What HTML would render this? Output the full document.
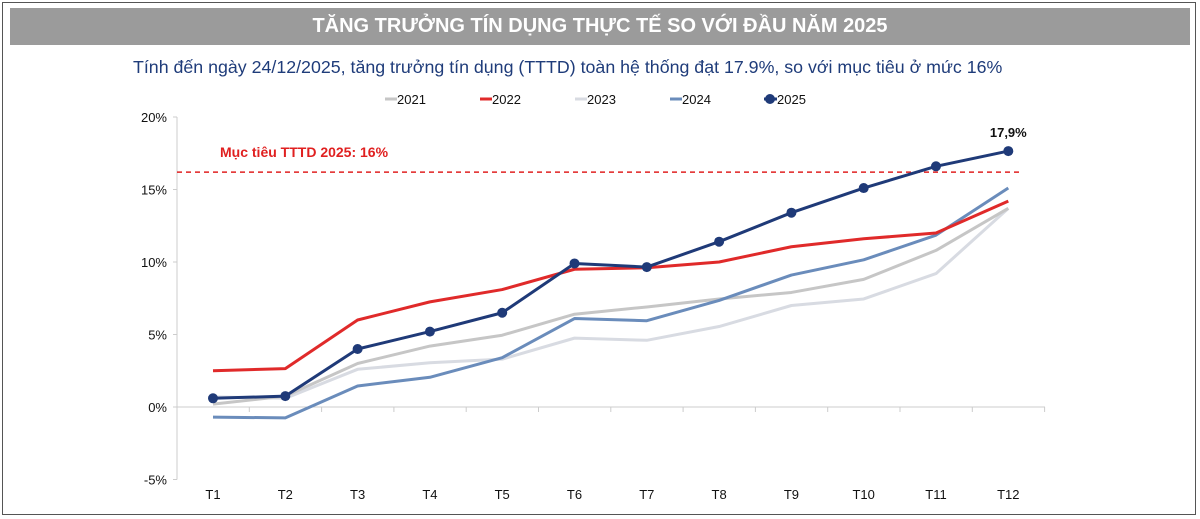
<!DOCTYPE html>
<html><head><meta charset="utf-8"><style>
body{margin:0;width:1200px;height:519px;background:#fff;font-family:"Liberation Sans",sans-serif;overflow:hidden}
#frame{position:absolute;left:2px;top:2px;width:1194px;height:513px;border:1px solid #555;box-sizing:border-box}
#hdr{position:absolute;left:10px;top:8px;width:1180px;height:37px;background:#9b9b9b;color:#fff;font-weight:bold;font-size:20px;text-align:center;line-height:37px}
#sub{position:absolute;left:133px;top:57px;white-space:nowrap;color:#1f3c7a;font-size:17.8px}
</style></head><body>
<div id="frame"></div>
<div id="hdr">TĂNG TRƯỞNG TÍN DỤNG THỰC TẾ SO VỚI ĐẦU NĂM 2025</div>
<div id="sub">Tính đến ngày 24/12/2025, tăng trưởng tín dụng (TTTD) toàn hệ thống đạt 17.9%, so với mục tiêu ở mức 16%</div>
<svg id="c" width="1200" height="519" style="position:absolute;left:0;top:0"></svg>
<script>
const categories=["T1","T2","T3","T4","T5","T6","T7","T8","T9","T10","T11","T12"];
const seriesNames=["2021","2022","2023","2024","2025"];
const s2021=[0.2,0.75,3.0,4.2,4.95,6.4,6.9,7.45,7.9,8.8,10.8,13.7];
const s2022=[2.5,2.65,6.0,7.25,8.1,9.5,9.6,10.0,11.05,11.6,12.0,14.2];
const s2023=[0.7,0.6,2.6,3.05,3.3,4.75,4.6,5.55,7.0,7.45,9.2,13.7];
const s2024=[-0.7,-0.75,1.45,2.05,3.4,6.1,5.95,7.35,9.1,10.15,11.85,15.1];
const s2025=[0.6,0.75,4.0,5.2,6.5,9.9,9.65,11.4,13.4,15.1,16.6,17.65];
const yTicks=[-5,0,5,10,15,20];
const target=16.2;
const lastLabel="17,9%";
const svg=document.getElementById('c');const NS="http://www.w3.org/2000/svg";
function X(i){return 213+i*72.3;}
function Y(v){return 407-v*14.5;}
function mk(t,a,p){const e=document.createElementNS(NS,t);for(const k in a)e.setAttribute(k,a[k]);(p||svg).appendChild(e);return e;}
let e;
e=mk('line',{x1:177,y1:Y(-5),x2:177,y2:Y(20),stroke:'#ccc'});


e=mk('line',{x1:177,y1:Y(0),x2:1045,y2:Y(0),stroke:'#ccc'});


for(let i=0;i<=12;i++){mk('line',{x1:X(i)-36,y1:Y(0),x2:X(i)-36,y2:Y(0)+5,stroke:'#ccc'});}
yTicks.forEach(v=>{mk('line',{x1:173,y1:Y(v),x2:177,y2:Y(v),stroke:'#ccc'});
e=mk('text',{x:167,y:Y(v)+5,'text-anchor':'end','font-size':13,fill:'#111'});e.textContent=v+'%';

});
categories.forEach((c,i)=>{e=mk('text',{x:X(i),y:499,'text-anchor':'middle','font-size':13,fill:'#111'});e.textContent=c;

});
e=mk('line',{x1:177,y1:Y(target),x2:1020,y2:Y(target),stroke:'#e02020','stroke-width':1.5,'stroke-dasharray':'5,4'});


e=mk('text',{x:220,y:157,'font-size':14,'font-weight':'bold',fill:'#e02020'});e.textContent='Mục tiêu TTTD 2025: 16%';


const colors=['#c6c6c6','#e02a2a','#d8dbe2','#6a8cbb','#1f3a78'];
const data=[s2021,s2022,s2023,s2024,s2025];
[2,0,3,1,4].forEach(k=>{const pts=data[k].map((v,i)=>X(i)+','+Y(v)).join(' ');
e=mk('polyline',{points:pts,fill:'none',stroke:colors[k],'stroke-width':3,'stroke-linejoin':'round'});

});
s2025.forEach((v,i)=>{e=mk('circle',{cx:X(i),cy:Y(v),r:5,fill:'#1f3a78'});

});
e=mk('text',{x:X(11),y:Y(s2025[11])-14,'text-anchor':'middle','font-size':13,'font-weight':'bold',fill:'#111'});e.textContent=lastLabel;


seriesNames.forEach((n,k)=>{const lx=385+k*95;
if(k==4){mk('line',{x1:lx-1,y1:99,x2:lx+12,y2:99,stroke:colors[k],'stroke-width':3});mk('circle',{cx:lx+5,cy:99,r:5,fill:colors[k]});}
else mk('line',{x1:lx,y1:99,x2:lx+12,y2:99,stroke:colors[k],'stroke-width':3});
e=mk('text',{x:lx+12,y:104,'font-size':13,fill:'#111'});e.textContent=n;

});
</script>
</body></html>
